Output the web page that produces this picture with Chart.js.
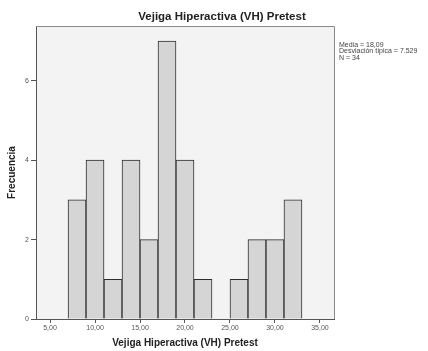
<!DOCTYPE html>
<html>
<head>
<meta charset="utf-8">
<script src="https://cdn.jsdelivr.net/npm/chart.js@4"></script>
<style>
  html, body { margin: 0; padding: 0; background: #ffffff; }
  #wrap { width: 428px; height: 351px; position: relative; }
</style>
</head>
<body>
<div id="wrap"><canvas id="c" width="428" height="351"></canvas></div>
<script>
// Histogram bins (width 2) of the pretest score
const binMids = [8, 10, 12, 14, 16, 18, 20, 22, 24, 26, 28, 30, 32];
const frequencies = [3, 4, 1, 4, 2, 7, 4, 1, 0, 1, 2, 2, 3];
const xTickValues = [5, 10, 15, 20, 25, 30, 35];
const yTickValues = [0, 2, 4, 6];
const statLines = ['Media = 18,09', 'Desviación típica = 7.529', 'N = 34'];
const chartTitle = 'Vejiga Hiperactiva (VH) Pretest';
const xTitle = 'Vejiga Hiperactiva (VH) Pretest';
const yTitle = 'Frecuencia';

const FONT = '"Liberation Sans", Arial, sans-serif';

// Plot background, frame, title and summary statistics
const decor = {
  id: 'decor',
  beforeDraw(chart) {
    const { ctx, chartArea: a } = chart;
    ctx.save();
    ctx.fillStyle = '#f3f3f3';
    ctx.fillRect(a.left, a.top, a.right - a.left, a.bottom - a.top);
    ctx.restore();
  },
  afterDraw(chart) {
    const { ctx, chartArea: a } = chart;
    ctx.save();
    ctx.strokeStyle = '#8a8a8a';
    ctx.lineWidth = 1;
    ctx.beginPath();
    ctx.moveTo(a.left, a.top + 0.5);
    ctx.lineTo(a.right + 0.5, a.top + 0.5);
    ctx.lineTo(a.right + 0.5, a.bottom);
    ctx.stroke();

    ctx.fillStyle = '#222';
    ctx.font = 'bold 11.5px ' + FONT;
    ctx.textAlign = 'center';
    ctx.textBaseline = 'middle';
    ctx.fillText(chartTitle, 222, 17);

    ctx.fillStyle = '#444';
    ctx.font = '7px ' + FONT;
    ctx.textAlign = 'left';
    statLines.forEach((s, i) => ctx.fillText(s, 339, 45 + i * 6.3));
    ctx.restore();
  }
};

new Chart(document.getElementById('c'), {
  type: 'bar',
  data: {
    datasets: [{
      data: binMids.map((m, i) => ({ x: m, y: frequencies[i] })),
      backgroundColor: '#d5d5d5',
      borderColor: '#2e2e2e',
      borderWidth: 1,
      barPercentage: 1,
      categoryPercentage: 1
    }]
  },
  options: {
    responsive: false,
    animation: false,
    events: [],
    layout: { padding: { left: 4, right: 94, top: 26, bottom: 0 } },
    plugins: { legend: { display: false }, tooltip: { enabled: false }, title: { display: false } },
    scales: {
      x: {
        type: 'linear',
        offset: false,
        min: 3.44,
        max: 36.56,
        afterFit(s) { s.height = 32; },
        afterBuildTicks(s) { s.ticks = xTickValues.map(v => ({ value: v })); },
        border: { display: true, color: '#555', width: 1 },
        grid: { display: true, offset: false, drawOnChartArea: false, drawTicks: true, tickLength: 4, color: '#555' },
        ticks: {
          font: { family: FONT, size: 7 },
          color: '#555',
          padding: 1,
          maxRotation: 0,
          callback: v => v.toFixed(2).replace('.', ',')
        },
        title: {
          display: true,
          text: xTitle,
          font: { family: FONT, size: 10, weight: 'bold' },
          color: '#222',
          padding: { top: 0, bottom: 2 }
        }
      },
      y: {
        min: 0,
        max: 7.38,
        afterFit(s) { s.width = 32; },
        afterBuildTicks(s) { s.ticks = yTickValues.map(v => ({ value: v })); },
        border: { display: true, color: '#555', width: 1 },
        grid: { display: true, drawOnChartArea: false, drawTicks: true, tickLength: 5, color: '#555' },
        ticks: {
          font: { family: FONT, size: 7 },
          color: '#555',
          padding: 2
        },
        title: {
          display: true,
          text: yTitle,
          font: { family: FONT, size: 10, weight: 'bold' },
          color: '#222',
          padding: { top: 2, bottom: 0 }
        }
      }
    }
  },
  plugins: [decor]
});
</script>
</body>
</html>
